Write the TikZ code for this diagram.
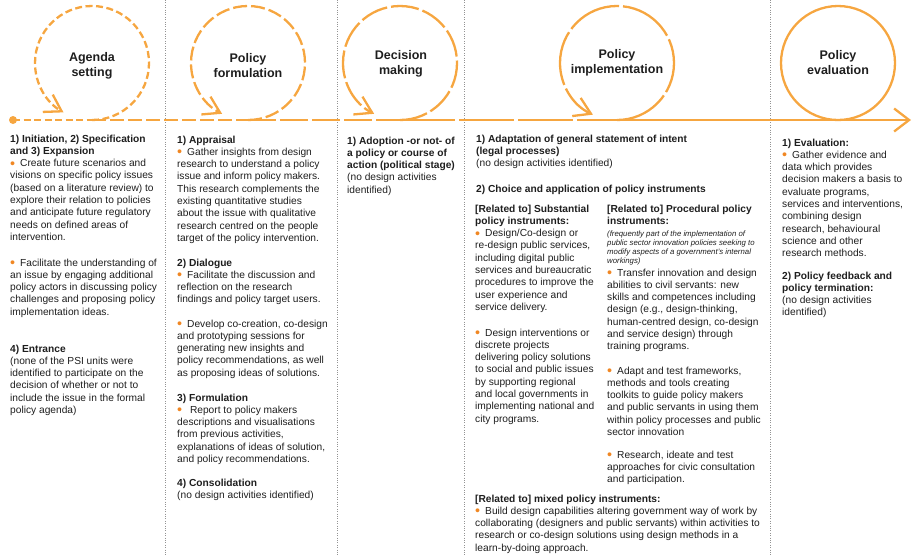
\documentclass[tikz,border=0pt]{standalone}
\usepackage{fontspec}
\usepackage{graphicx}
\setmainfont{Liberation Sans}
\usetikzlibrary{arrows.meta}
\definecolor{lineorange}{RGB}{246,166,64}
\definecolor{dotorange}{RGB}{240,135,35}
\definecolor{txt}{RGB}{30,30,30}
\newcommand{\bul}{\textcolor{dotorange}{\raisebox{-1.6pt}{\scalebox{1.4}{\textbullet}}}\hspace{5pt}}
\newcommand{\blk}[1]{\begin{tabular}[t]{@{}l@{}}#1\end{tabular}}

\begin{document}
\begin{tikzpicture}[x=1pt, y=-1pt,
  stage/.style={align=center, inner sep=0pt, font=\fontsize{12.5}{15}\selectfont\bfseries, text=txt},
  txtblock/.style={anchor=base west, inner sep=0pt, font=\fontsize{10.2}{12.3}\selectfont, text=txt},
  smallblock/.style={txtblock, font=\fontsize{7.8}{9.1}\selectfont\itshape},
  sep/.style={draw=gray!85, line width=0.7pt, dash pattern=on 0.8pt off 1.6pt},
  tl/.style={draw=lineorange, line width=2.3pt},
  tip/.style={-{Straight Barb[length=16pt,width=20pt]}},
  endtip/.style={-{Straight Barb[length=15pt,width=23pt]}},
  dashA/.style={dash pattern=on 7pt off 3.5pt},
  dashB/.style={dash pattern=on 14pt off 4pt},
  dashC/.style={dash pattern=on 28pt off 4pt},
  dashD/.style={dash pattern=on 55pt off 4pt}]
    \useasboundingbox (0,0) rectangle (912,555);

    % column separators
    \foreach \sx in {165.5,337,464,770}
        \draw[sep] (\sx,0) -- (\sx,555);

    % loop centres and the points where they touch the time line
    \coordinate (agenda) at (92,63);   \coordinate (agenda-b) at (92,120);
    \coordinate (formul) at (248,63);  \coordinate (formul-b) at (248,120);
    \coordinate (decis) at (400,63);   \coordinate (decis-b) at (400,120);
    \coordinate (implem) at (617,63);  \coordinate (implem-b) at (617,120);
    \coordinate (evalu) at (838,63);
    \coordinate (start) at (13,120);
    \coordinate (end) at (911,120);

    % time line
    \fill[lineorange] (start) circle[radius=4];
    \draw[tl, dashA] (start) -- (agenda-b);
    \draw[tl, dashB] (agenda-b) -- (formul-b);
    \draw[tl, dashC] (formul-b) -- (decis-b);
    \draw[tl, dashD] (decis-b) -- (implem-b);
    \draw[tl, endtip] (implem-b) -- (end);

    % loops
    \draw[tl, dashA, tip] (agenda-b) arc[start angle=90, end angle=-240, radius=57];
    \draw[tl, dashB, tip] (formul-b) arc[start angle=90, end angle=-243, radius=57];
    \draw[tl, dashC, tip] (decis-b) arc[start angle=90, end angle=-243, radius=57];
    \draw[tl, dashD, tip] (implem-b) arc[start angle=90, end angle=-245, radius=57];
    \draw[tl] (evalu) circle[radius=57];

    \node[stage] (agenda-l) at (92,66) {Agenda\\setting};
    \node[stage] (formul-l) at (248,66) {Policy\\formulation};
    \node[stage] (decis-l) at (401,64) {Decision\\making};
    \node[stage] (implem-l) at (617,63) {Policy\\implementation};
    \node[stage] (evalu-l) at (838,63) {Policy\\evaluation};

    % column 1
    \node[txtblock] (c1a) at (10,142) {\blk{\textbf{1) Initiation, 2) Specification}\\\textbf{and 3) Expansion}\\\bul Create future scenarios and\\visions on specific policy issues\\(based on a literature review) to\\explore their relation to policies\\and anticipate future regulatory\\needs on defined areas of\\intervention.}};
    \node[txtblock] (c1b) at (10,266) {\blk{\bul Facilitate the understanding of\\an issue by engaging additional\\policy actors in discussing policy\\challenges and proposing policy\\implementation ideas.}};
    \node[txtblock] (c1c) at (10,352) {\blk{\textbf{4) Entrance}\\(none of the PSI units were\\identified to participate on the\\decision of whether or not to\\include the issue in the formal\\policy agenda)}};

    % column 2
    \node[txtblock] (c2a) at (177,143) {\blk{\textbf{1) Appraisal}\\\bul Gather insights from design\\research to understand a policy\\issue and inform policy makers.\\This research complements the\\existing quantitative studies\\about the issue with qualitative\\research centred on the people\\target of the policy intervention.}};
    \node[txtblock] (c2b) at (177,266) {\blk{\textbf{2) Dialogue}\\\bul Facilitate the discussion and\\reflection on the research\\findings and policy target users.}};
    \node[txtblock] (c2c) at (177,327) {\blk{\bul Develop co-creation, co-design\\and prototyping sessions for\\generating new insights and\\policy recommendations, as well\\as proposing ideas of solutions.}};
    \node[txtblock] (c2d) at (177,401) {\blk{\textbf{3) Formulation}\\\bul\ Report to policy makers\\descriptions and visualisations\\from previous activities,\\explanations of ideas of solution,\\and policy recommendations.}};
    \node[txtblock] (c2e) at (177,486) {\blk{\textbf{4) Consolidation}\\(no design activities identified)}};

    % column 3
    \node[txtblock] (c3a) at (347,144) {\blk{\textbf{1) Adoption -or not- of}\\\textbf{a policy or course of}\\\textbf{action (political stage)}\\(no design activities\\identified)}};

    % column 4
    \node[txtblock] (c4a) at (476,142) {\blk{\textbf{1) Adaptation of general statement of intent}\\\textbf{(legal processes)}\\(no design activities identified)}};
    \node[txtblock] (c4b) at (476,192) {\blk{\textbf{2) Choice and application of policy instruments}}};
    \node[txtblock] (c4c) at (475,212) {\blk{\textbf{[Related to] Substantial}\\\textbf{policy instruments:}\\\bul Design/Co-design or\\re-design public services,\\including digital public\\services and bureaucratic\\procedures to improve the\\user experience and\\service delivery.}};
    \node[txtblock] (c4d) at (475,336) {\blk{\bul Design interventions or\\discrete projects\\delivering policy solutions\\to social and public issues\\by supporting regional\\and local governments in\\implementing national and\\city programs.}};
    \node[txtblock] (c4e) at (607,212) {\blk{\textbf{[Related to] Procedural policy}\\\textbf{instruments:}}};
    \node[smallblock] (c4f) at (607,236) {\blk{(frequently part of the implementation of\\public sector innovation policies seeking to\\modify aspects of a government's internal\\workings)}};
    \node[txtblock] (c4g) at (607,276) {\blk{\bul Transfer innovation and design\\abilities to civil servants: new\\skills and competences including\\design (e.g., design-thinking,\\human-centred design, co-design\\and service design) through\\training programs.}};
    \node[txtblock] (c4h) at (607,374) {\blk{\bul Adapt and test frameworks,\\methods and tools creating\\toolkits to guide policy makers\\and public servants in using them\\within policy processes and public\\sector innovation}};
    \node[txtblock] (c4i) at (607,458) {\blk{\bul Research, ideate and test\\approaches for civic consultation\\and participation.}};
    \node[txtblock] (c4j) at (475,502) {\blk{\textbf{[Related to] mixed policy instruments:}\\\bul Build design capabilities altering government way of work by\\collaborating (designers and public servants) within activities to\\research or co-design solutions using design methods in a\\learn-by-doing approach.}};

    % column 5
    \node[txtblock] (c5a) at (782,146) {\blk{\textbf{1) Evaluation:}\\\bul Gather evidence and\\data which provides\\decision makers a basis to\\evaluate programs,\\services and interventions,\\combining design\\research, behavioural\\science and other\\research methods.}};
    \node[txtblock] (c5b) at (782,279) {\blk{\textbf{2) Policy feedback and}\\\textbf{policy termination:}\\(no design activities\\identified)}};
\end{tikzpicture}
\end{document}
